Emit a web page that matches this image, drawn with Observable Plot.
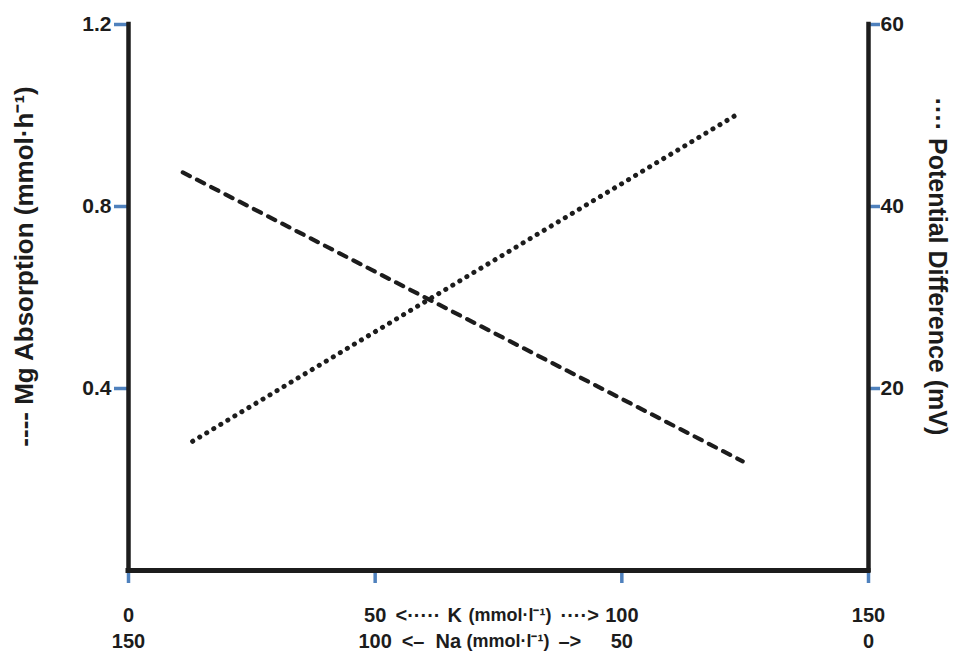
<!DOCTYPE html>
<html>
<head>
<meta charset="utf-8">
<script src="https://cdn.jsdelivr.net/npm/d3@7"></script>
<script src="https://cdn.jsdelivr.net/npm/@observablehq/plot@0.6"></script>
<style>
  html, body { margin: 0; padding: 0; background: #fff; }
</style>
</head>
<body>
<div id="chart"></div>
<script>
// Bottom axis: K concentration (mmol/l); Na runs the other way (150 − K)
const kTicks = [0, 50, 100, 150];
const naTicks = [150, 100, 50, 0];

// Left axis: Mg absorption; right axis: potential difference
const mgTicks = [0.4, 0.8, 1.2];
const pdTicks = [20, 40, 60];

// Mg absorption (mmol·h⁻¹) — dashed line
const mgK = [11, 124.5];
const mgAbsorption = [0.875, 0.24];

// Potential difference (mV) — dotted line
const pdK = [13, 123];
const potentialDifference = [14.2, 50];

// 60 mV on the right axis sits level with 1.2 on the left
const mvPerUnit = 50;

const mgData = mgK.map((k, i) => ({k, value: mgAbsorption[i]}));
const pdData = pdK.map((k, i) => ({k, value: potentialDifference[i]}));

const ink = "#1c1c1c";
const tickBlue = "#4f81bd";
const font = "'Liberation Sans', Arial, Helvetica, sans-serif";

const chart = Plot.plot({
  width: 953,
  height: 652,
  marginTop: 24,
  marginBottom: 82,
  marginLeft: 128,
  marginRight: 85,
  style: {fontFamily: font, color: ink, background: "#fff"},
  x: {domain: [0, 150]},
  y: {domain: [0, 1.2]},
  marks: [
    // left axis
    Plot.axisY({
      anchor: "left", ticks: mgTicks, tickFormat: d => d.toFixed(1),
      tickSize: 14, tickPadding: 3, stroke: tickBlue, strokeWidth: 3.5,
      fill: ink, fontSize: 21, fontWeight: "bold", label: null
    }),
    // right axis, in mV
    Plot.axisY({
      anchor: "right", ticks: pdTicks.map(v => v / mvPerUnit),
      tickFormat: d => String(Math.round(d * mvPerUnit)),
      tickSize: 11, tickPadding: 1, stroke: tickBlue, strokeWidth: 3.5,
      fill: ink, fontSize: 21, fontWeight: "bold", label: null
    }),
    // bottom axis: K values
    Plot.axisX({
      anchor: "bottom", ticks: kTicks, tickFormat: d => String(d),
      tickSize: 13, tickPadding: 24, stroke: tickBlue, strokeWidth: 3.5,
      fill: ink, fontSize: 20, fontWeight: "bold", label: null
    }),
    // second row: matching Na values
    Plot.axisX({
      anchor: "bottom", ticks: kTicks,
      tickFormat: d => String(naTicks[kTicks.indexOf(d)]),
      tickSize: 0, tickPadding: 63,
      fill: ink, fontSize: 20, fontWeight: "bold", label: null
    }),

    // frame lines: left, right and bottom
    Plot.ruleX([0, 150], {stroke: ink, strokeWidth: 4.5, strokeLinecap: "square"}),
    Plot.ruleY([0], {stroke: ink, strokeWidth: 5, strokeLinecap: "square"}),

    // data
    Plot.line(mgData, {
      x: "k", y: "value", stroke: ink, strokeWidth: 4.2,
      strokeDasharray: "8,8", strokeLinecap: "round"
    }),
    Plot.line(pdData, {
      x: "k", y: d => d.value / mvPerUnit, stroke: ink, strokeWidth: 5,
      strokeDasharray: "0.1,8.1", strokeLinecap: "round"
    }),

    // axis titles
    Plot.text(["---- Mg Absorption (mmol·h⁻¹)"], {
      text: d => d, frameAnchor: "left", textAnchor: "middle", rotate: -90,
      dx: -104, dy: -31, fontSize: 26, fontWeight: "bold", fill: ink
    }),
    Plot.text(["···· Potential Difference (mV)"], {
      text: d => d, frameAnchor: "right", textAnchor: "middle", rotate: 90,
      dx: 68, dy: -31, fontSize: 25, fontWeight: "bold", fill: ink
    }),

    // K caption between the 50 and 100 ticks
    Plot.text(["<·····"], {text: d => d, frameAnchor: "bottom", lineAnchor: "top", textAnchor: "end",
      dx: -58, dy: 37, fontSize: 20, fontWeight: "bold", fill: ink}),
    Plot.text(["K"], {text: d => d, frameAnchor: "bottom", lineAnchor: "top", textAnchor: "start",
      dx: -51, dy: 37, fontSize: 20, fontWeight: "bold", fill: ink}),
    Plot.text(["(mmol·l⁻¹)"], {text: d => d, frameAnchor: "bottom", lineAnchor: "top", textAnchor: "start",
      dx: -30, dy: 38, fontSize: 18, fontWeight: "bold", fill: ink}),
    Plot.text(["····>"], {text: d => d, frameAnchor: "bottom", lineAnchor: "top", textAnchor: "start",
      dx: 62, dy: 37, fontSize: 20, fontWeight: "bold", fill: ink}),

    // Na caption, second row
    Plot.text(["<–"], {text: d => d, frameAnchor: "bottom", lineAnchor: "top", textAnchor: "end",
      dx: -74, dy: 63, fontSize: 20, fontWeight: "bold", fill: ink}),
    Plot.text(["Na"], {text: d => d, frameAnchor: "bottom", lineAnchor: "top", textAnchor: "start",
      dx: -63, dy: 63, fontSize: 20, fontWeight: "bold", fill: ink}),
    Plot.text(["(mmol·l⁻¹)"], {text: d => d, frameAnchor: "bottom", lineAnchor: "top", textAnchor: "start",
      dx: -32, dy: 64, fontSize: 18, fontWeight: "bold", fill: ink}),
    Plot.text(["–>"], {text: d => d, frameAnchor: "bottom", lineAnchor: "top", textAnchor: "start",
      dx: 60, dy: 63, fontSize: 20, fontWeight: "bold", fill: ink})
  ]
});

document.getElementById("chart").append(chart);
</script>
</body>
</html>
